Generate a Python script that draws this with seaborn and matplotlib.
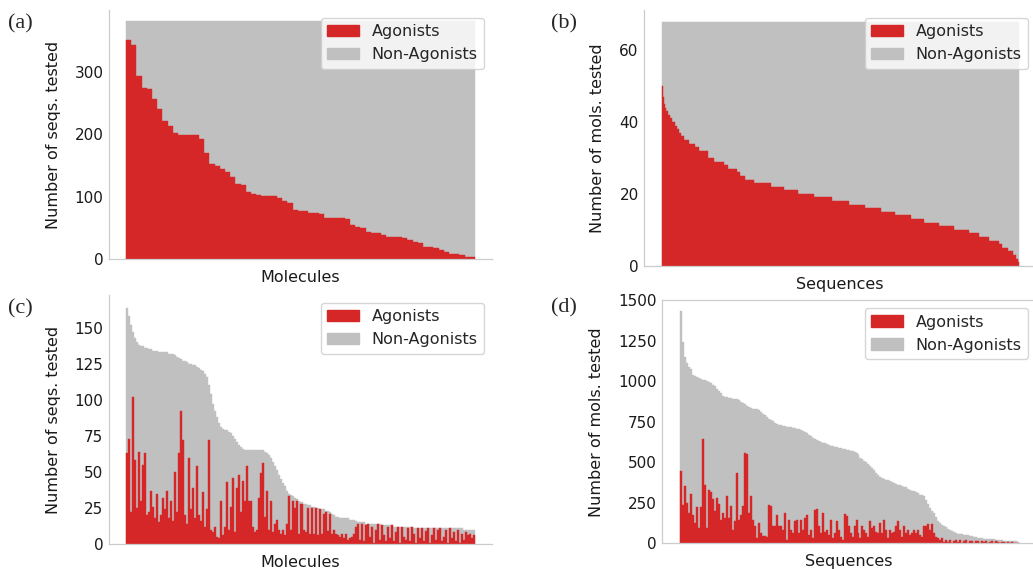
import numpy as np
import matplotlib
matplotlib.use('Agg')
import matplotlib.pyplot as plt
from matplotlib.patches import Patch
import seaborn as sns

# (a) agonist count per molecule, out of a constant number of sequences tested
tested_a = 381
agonists_a = [351, 343, 293, 274, 273, 256, 240, 221, 213, 202,
              199, 199, 198, 198, 192, 170, 153, 149, 144, 139,
              131, 120, 118, 107, 104, 102, 101, 101, 101, 98,
              93, 90, 78, 77, 77, 73, 73, 72, 66, 66,
              66, 65, 64, 54, 52, 50, 44, 42, 41, 38,
              36, 36, 36, 33, 31, 28, 25, 20, 19, 17,
              15, 12, 8, 8, 6, 4, 3]

# (b) agonist count per sequence (level, number of sequences at that level)
tested_b = 68
levels_b = [50, 47, 45, 44, 43, 42, 41, 40, 39, 38, 37, 36, 35, 34, 33, 32, 30, 29, 28, 27,
            26, 25, 24, 23, 22, 21, 20, 19, 18, 17, 16, 15, 14, 13, 12, 11, 10, 9, 8, 7,
            6, 5, 4, 3, 2, 1]
counts_b = [1, 1, 1, 1, 2, 2, 2, 3, 2, 2, 2, 3, 5, 5, 4, 9, 6, 10, 4, 9,
            3, 5, 9, 17, 13, 14, 16, 18, 16, 16, 16, 14, 16, 13, 15, 15, 15, 10, 10, 9,
            3, 6, 5, 3, 2, 1]

# (c) per molecule: sequences tested and agonist sequences
tested_c = [164, 158, 152, 147, 143, 140, 138, 137, 137, 136,
            136, 135, 135, 134, 134, 134, 133, 133, 133, 133,
            133, 132, 132, 132, 131, 130, 129, 128, 127, 127,
            126, 125, 125, 124, 124, 123, 122, 121, 120, 118,
            116, 110, 104, 97, 92, 88, 84, 81, 80, 79,
            79, 78, 77, 75, 73, 71, 69, 67, 66, 65,
            65, 65, 65, 65, 65, 65, 65, 65, 65, 64,
            63, 62, 60, 57, 54, 51, 48, 45, 42, 40,
            37, 35, 34, 33, 32, 31, 30, 29, 28, 28,
            27, 27, 26, 26, 25, 25, 24, 24, 24, 23,
            23, 22, 21, 20, 19, 19, 18, 18, 18, 18,
            18, 17, 17, 17, 16, 15, 15, 15, 15, 14,
            14, 14, 14, 14, 14, 14, 14, 13, 13, 13,
            13, 13, 13, 12, 12, 12, 12, 12, 12, 12,
            12, 12, 12, 11, 11, 11, 11, 11, 11, 11,
            11, 11, 11, 11, 11, 11, 11, 11, 11, 11,
            11, 11, 11, 11, 11, 11, 11, 11, 10, 10,
            10, 10, 10, 10]
agonists_c = [63, 73, 22, 102, 58, 25, 64, 30, 55, 63,
              20, 22, 37, 26, 18, 35, 15, 20, 32, 24,
              37, 18, 30, 16, 50, 22, 63, 92, 72, 20,
              14, 60, 24, 39, 18, 54, 20, 16, 36, 12,
              24, 72, 10, 8, 12, 5, 4, 30, 6, 12,
              43, 10, 26, 46, 8, 39, 48, 22,
              44, 30, 54, 30, 30, 12, 8, 10, 32, 49,
              56, 19, 37, 10, 30, 8, 14, 17, 10, 7,
              10, 6, 14, 33, 10, 30, 25, 30, 7, 28,
              10, 8, 25, 7, 25, 7, 25, 6, 24, 7,
              21, 22, 9, 21, 7, 10, 7, 6, 5, 7,
              4, 7, 3, 4, 5, 7, 12, 14,
              3, 14, 2, 13, 14, 5, 12, 1, 10, 14,
              3, 13, 6, 2, 12, 4, 13, 2, 8, 12,
              1, 12, 5, 3, 11, 2, 12, 7, 1, 11,
              4, 11, 2, 9, 11, 1, 6, 11, 3, 10,
              11, 2, 5, 10, 1, 11, 4, 8, 2, 10,
              1, 7, 3, 8, 6, 7, 4, 6]

# (d) per sequence: molecules tested and agonist molecules
tested_d = [1434, 1240, 1150, 1110, 1090, 1075, 1040, 1030, 1028, 1020,
            1015, 1010, 1005, 1000, 995, 990, 980, 970, 955, 940,
            925, 912, 905, 900, 897, 895, 893, 891, 890, 885,
            875, 865, 858, 850, 842, 836, 830, 828, 826, 820,
            812, 800, 790, 780, 770, 760, 752, 745, 738, 732,
            728, 725, 722, 720, 718, 715, 712, 710, 707, 703,
            698, 692, 685, 678, 668, 660, 652, 645, 640, 633,
            627, 621, 616, 611, 606, 601, 598, 595, 592, 590,
            588, 585, 582, 578, 575, 572, 569, 566, 560, 545,
            528, 520, 510, 500, 490, 478, 466, 450, 435, 420,
            410, 403, 398, 393, 388, 383, 378, 372, 366, 362,
            358, 354, 350, 345, 338, 330, 325, 320, 315, 308,
            300, 295, 290, 270, 240, 215, 200, 188, 160, 140,
            124, 115, 106, 98, 90, 83, 78, 72, 66, 60,
            57, 55, 53, 52, 50, 47, 44, 40, 36, 33,
            31, 30, 29, 28, 27, 26, 25, 24, 23, 22,
            21, 19, 17, 16, 15, 14, 13, 12, 11, 10]
agonists_d = [445, 238, 352, 248, 186, 306, 176, 124, 224, 97,
              224, 645, 362, 97, 327, 315, 273, 201, 277, 244,
              145, 186, 155, 294, 155, 228, 83, 135, 435, 145,
              176, 228, 559, 548, 186, 290, 145, 104, 31, 124,
              62, 46, 46, 41, 238, 228, 104, 104, 176, 104,
              104, 83, 186, 21, 145, 83,
              62, 135, 145, 62, 145, 83, 155, 176, 52, 83,
              31, 207, 211, 104, 62, 186, 72, 83, 52, 141,
              31, 62, 135, 83, 41, 21, 182, 170, 104, 62,
              41, 104, 145, 62, 31, 104, 83, 62, 41, 135,
              93, 104, 72, 62, 124, 62, 145, 83, 31, 83,
              62, 72, 104, 135, 83, 41, 104, 62,
              83, 52, 62, 83, 62, 83, 52, 41, 104, 104,
              120, 83, 120, 62, 41, 31, 20, 31, 10, 21,
              5, 21, 3, 14, 21, 6, 21, 2, 14, 21,
              4, 12, 17, 3, 15, 12, 3, 14, 6, 12,
              2, 10, 14, 3, 12, 8, 2, 10, 6, 3,
              8, 2, 6, 4, 1, 3]

RED = '#d62728'
GREY = '#c0c0c0'

sns.set_style('white')
plt.rcParams['font.family'] = ['DejaVu Sans']


def stacked(ax, total, agon):
    idx = np.arange(len(agon))
    for vals, col in [(total, GREY), (agon, RED)]:
        sns.barplot(x=idx, y=vals, color=col, width=1, saturation=1,
                    errorbar=None, linewidth=0.3, edgecolor=col, ax=ax)


def style(ax, xlabel, ylabel, ylim, yticks, xlim, top=False):
    ax.set_xlim(*xlim)
    ax.set_ylim(*ylim)
    ax.set_xticks([])
    ax.set_yticks(yticks)
    ax.tick_params(axis='y', labelsize=11, colors='0.1', length=0, pad=4)
    ax.set_xlabel(xlabel, fontsize=11.5, color='0.1', labelpad=8)
    ax.set_ylabel(ylabel, fontsize=11.5, color='0.1', labelpad=10)
    for side in ['left', 'bottom', 'top']:
        ax.spines[side].set_color('#cccccc')
        ax.spines[side].set_linewidth(0.9)
    ax.spines['right'].set_visible(False)
    ax.spines['top'].set_visible(top)
    handles = [Patch(color=RED, label='Agonists'),
               Patch(color=GREY, label='Non-Agonists')]
    ax.legend(handles=handles, loc='upper right', fontsize=11.5)


fig = plt.figure(figsize=(10.33, 5.69), dpi=100)

ax_a = fig.add_axes([0.1055, 0.5448, 0.3708, 0.4376])
stacked(ax_a, [tested_a] * len(agonists_a), agonists_a)
style(ax_a, 'Molecules', 'Number of seqs. tested', (0, 399), [0, 100, 200, 300],
      (-3.76, 69.76))

agonists_b = np.repeat(levels_b, counts_b)
ax_b = fig.add_axes([0.6237, 0.5330, 0.3792, 0.4494])
stacked(ax_b, [tested_b] * len(agonists_b), agonists_b)
style(ax_b, 'Sequences', 'Number of mols. tested', (0, 71.2), [0, 20, 40, 60],
      (-18.4, 370.7))

ax_c = fig.add_axes([0.1055, 0.0439, 0.3708, 0.4376])
stacked(ax_c, tested_c, agonists_c)
style(ax_c, 'Molecules', 'Number of seqs. tested', (0, 172.7),
      [0, 25, 50, 75, 100, 125, 150], (-9.0, 182.0))

ax_d = fig.add_axes([0.6411, 0.0452, 0.3618, 0.4271])
stacked(ax_d, tested_d, agonists_d)
style(ax_d, 'Sequences', 'Number of mols. tested', (0, 1500),
      [0, 250, 500, 750, 1000, 1250, 1500], (-9.4, 178.0), top=True)

for lab, x, y in [('(a)', 8, 24), ('(b)', 551, 24), ('(c)', 8, 309), ('(d)', 551, 308)]:
    fig.text(x / 1033, 1 - y / 569, lab, ha='left', va='center',
             family='Liberation Serif', fontsize=16)

fig.savefig('out.png', dpi=100)
